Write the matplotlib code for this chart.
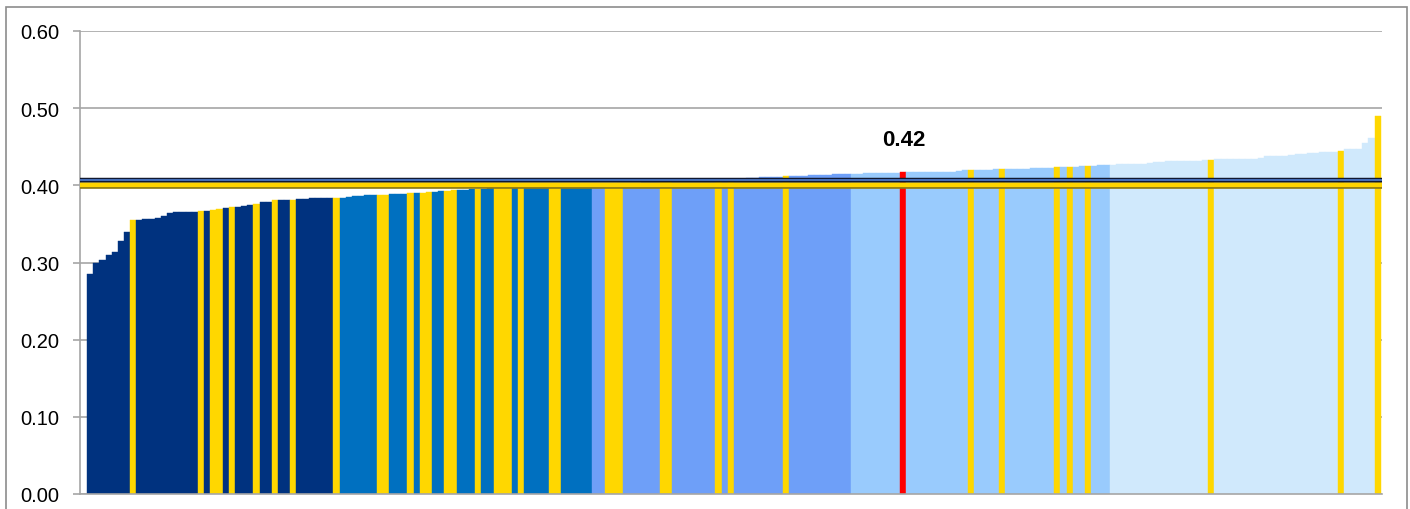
import numpy as np
import matplotlib
matplotlib.use("Agg")
import matplotlib.pyplot as plt
from matplotlib.patches import Rectangle

# valori ordinati (uno per barra)
valori = [
    0.285, 0.299, 0.303, 0.310, 0.314, 0.328, 0.340, 0.355, 0.355, 0.356,
    0.357, 0.358, 0.360, 0.364, 0.365, 0.366, 0.366, 0.366, 0.367, 0.367,
    0.368, 0.369, 0.371, 0.372, 0.372, 0.373, 0.374, 0.376, 0.378, 0.379,
    0.381, 0.381, 0.381, 0.381, 0.382, 0.382, 0.383, 0.383, 0.383, 0.384,
    0.384, 0.384, 0.385, 0.3857, 0.386, 0.387, 0.3875, 0.388, 0.388, 0.3883,
    0.389, 0.389, 0.3896, 0.390, 0.3905, 0.391, 0.392, 0.3925, 0.3925, 0.3935,
    0.3935, 0.394, 0.3948, 0.395, 0.3958, 0.3962, 0.3966, 0.3970, 0.3973, 0.3976,
    0.3979, 0.3982, 0.3985, 0.3988, 0.3991, 0.3994, 0.3997, 0.4000, 0.4003, 0.4005,
    0.4008, 0.4010, 0.4013, 0.4016, 0.4019, 0.4022, 0.4025, 0.4028, 0.4031, 0.4034,
    0.4037, 0.4040, 0.4043, 0.4046, 0.4049, 0.4052, 0.4055, 0.4058, 0.4061, 0.4064,
    0.4067, 0.4070, 0.4073, 0.4076, 0.4080, 0.4084, 0.4088, 0.4092, 0.4100, 0.4103,
    0.4106, 0.4108, 0.4110, 0.4115, 0.4120, 0.4123, 0.4126, 0.4129, 0.4132, 0.4135,
    0.4138, 0.4143, 0.4145, 0.4147, 0.4150, 0.4152, 0.4155, 0.4158, 0.4160, 0.4161,
    0.4163, 0.4165, 0.4173, 0.4168, 0.4170, 0.4171, 0.4172, 0.4174, 0.4175, 0.4176,
    0.4178, 0.4186, 0.4193, 0.4198, 0.4200, 0.4203, 0.4205, 0.4207, 0.4211, 0.4212,
    0.4214, 0.4216, 0.4218, 0.4220, 0.4222, 0.4224, 0.4226, 0.4233, 0.4234, 0.4235,
    0.4240, 0.4245, 0.4250, 0.4255, 0.4260, 0.4264, 0.4266, 0.4270, 0.4276, 0.4278,
    0.4280, 0.4282, 0.4290, 0.4296, 0.4300, 0.4310, 0.4312, 0.4314, 0.4316, 0.4318,
    0.4320, 0.4322, 0.4328, 0.4335, 0.4337, 0.4339, 0.4340, 0.4342, 0.4344, 0.4346,
    0.4348, 0.4376, 0.4378, 0.4380, 0.4384, 0.4398, 0.4400, 0.4402, 0.4419, 0.4422,
    0.4426, 0.4430, 0.4432, 0.4449, 0.4470, 0.4471, 0.4473, 0.4548, 0.4613, 0.4894,
]

# numero di barre per gruppo (quintili) e colori dei gruppi
dim_gruppi = [41, 41, 42, 42, 44]
colori_gruppi = ["#00327F", "#0070C0", "#6E9FF8", "#99CBFD", "#D0E9FC"]

# barre evidenziate
indici_gialli = [7, 18, 20, 21, 23, 27, 30, 33, 40, 47, 48, 52, 54, 55, 58, 59,
                 63, 66, 67, 68, 70, 75, 76, 84, 85, 86, 93, 94, 102, 104, 113,
                 143, 148, 157, 159, 162, 182, 203, 209]
indice_rosso = 132
etichetta_rosso = "0.42"

# linee orizzontali (medie)
media_gialla = 0.400
media_blu = 0.407


def plot_barre():
    n = len(valori)
    colori = []
    for g, k in enumerate(dim_gruppi):
        colori += [colori_gruppi[g]] * k
    for i in indici_gialli:
        colori[i] = "#FFD700"
    colori[indice_rosso] = "#FF0000"

    plt.rcParams["font.family"] = ["Liberation Sans", "DejaVu Sans"]
    fig = plt.figure(figsize=(14.1, 5.1), dpi=100)
    ax = fig.add_axes([80 / 1410, 15 / 510, 1302 / 1410, 463 / 510])

    x = np.arange(n)
    ax.bar(x, valori, width=1.0, color=colori, edgecolor=colori, linewidth=0.3, zorder=2)

    # linee delle medie con bordo scuro
    ax.axhline(media_gialla, color="#8E7A12", lw=4.8, zorder=3)
    ax.axhline(media_gialla, color="#FFD400", lw=3.0, zorder=4)
    ax.axhline(media_blu, color="#101830", lw=3.2, zorder=3)
    ax.axhline(media_blu, color="#4A78C8", lw=1.3, zorder=4)

    # etichetta della barra rossa
    ax.annotate(etichetta_rosso, (indice_rosso, valori[indice_rosso]),
                xytext=(0, 16), textcoords="offset points", ha="center", va="bottom",
                fontsize=16, fontweight="bold")

    ax.set_xlim(-1.64, n - 0.3)
    ax.set_ylim(0, 0.6)
    ax.set_yticks(np.arange(0, 0.61, 0.1))
    ax.set_yticklabels([f"{v:.2f}" for v in np.arange(0, 0.61, 0.1)])
    ax.set_xticks([])
    ax.yaxis.grid(True, color="#A6A6A6", lw=1.2)
    ax.set_axisbelow(True)
    ax.tick_params(axis="y", length=5, width=1.2, color="#A6A6A6", pad=10, labelsize=14.5)
    for s in ["top", "right"]:
        ax.spines[s].set_visible(False)
    for s in ["left", "bottom"]:
        ax.spines[s].set_color("#A6A6A6")
        ax.spines[s].set_linewidth(1.2)

    # bordo dell'area del grafico
    fig.patches.append(Rectangle((6 / 1410, -0.1), 1401 / 1410, 1.1 - 8 / 510,
                                 transform=fig.transFigure, fill=False,
                                 edgecolor="#8C8C8C", lw=1.2))

    fig.savefig("out.png", dpi=100)


if __name__ == "__main__":
    plot_barre()
